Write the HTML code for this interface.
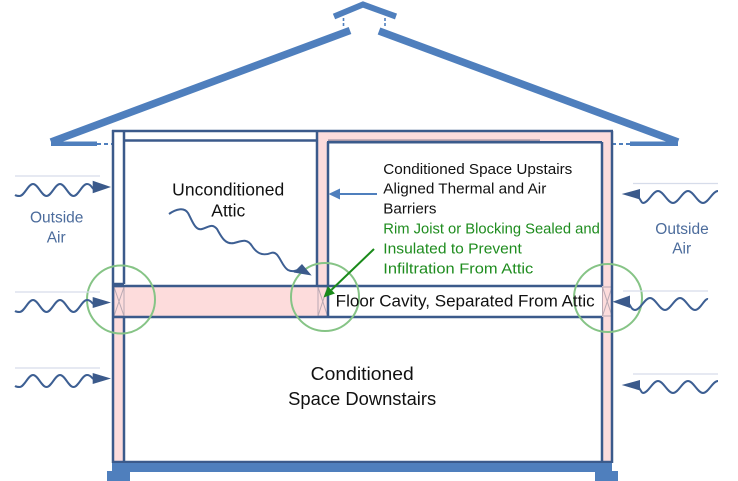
<!DOCTYPE html>
<html><head><meta charset="utf-8"><style>
html,body{margin:0;padding:0;background:#fff;}
svg{display:block;}
text{font-family:"Liberation Sans",sans-serif;}
</style></head><body>
<svg width="738" height="481" viewBox="0 0 738 481" xmlns="http://www.w3.org/2000/svg">
<!-- roof -->
<g fill="none" stroke="#4f7fbd">
<line x1="51" y1="142" x2="350" y2="30.5" stroke-width="7.5"/>
<line x1="379" y1="31" x2="678" y2="142" stroke-width="7.5"/>
<polyline points="334,16.5 363,4.5 396,16.5" stroke-width="6" stroke-linejoin="miter"/>
<line x1="343.5" y1="18" x2="343.5" y2="28" stroke-width="1.6" stroke-dasharray="3,2"/>
<line x1="385" y1="18" x2="385" y2="28" stroke-width="1.6" stroke-dasharray="3,2"/>
<line x1="97" y1="144" x2="112" y2="144" stroke-width="2" stroke-dasharray="4,3"/>
<line x1="612" y1="144" x2="630" y2="144" stroke-width="2" stroke-dasharray="4,3"/>
</g>
<rect x="51" y="141.5" width="46" height="4.5" fill="#4f7fbd"/>
<rect x="630" y="141.5" width="48" height="4.5" fill="#4f7fbd"/>

<!-- pink insulation -->
<g fill="#fddcdc">
<rect x="317" y="131" width="11" height="155"/>
<rect x="317" y="131" width="295" height="11"/>
<rect x="602" y="131" width="10" height="331"/>
<rect x="113" y="286" width="204" height="31"/>
<rect x="113" y="317" width="11" height="145"/>
<rect x="317" y="286" width="11" height="31"/>
</g>

<!-- rims X -->
<g stroke="#b9a9b3" stroke-width="1" fill="none">
<rect x="114" y="287" width="10" height="29"/>
<line x1="114" y1="287" x2="124" y2="316"/><line x1="124" y1="287" x2="114" y2="316"/>
<rect x="318" y="287" width="9.5" height="29"/>
<line x1="318" y1="287" x2="327.5" y2="316"/><line x1="327.5" y1="287" x2="318" y2="316"/>
<rect x="602.5" y="287" width="9.5" height="29"/>
<line x1="602.5" y1="287" x2="612" y2="316"/><line x1="612" y1="287" x2="602.5" y2="316"/>
</g>
<line x1="328" y1="140.3" x2="540" y2="140.3" stroke="#a596a6" stroke-width="1.8"/>

<!-- house lines -->
<g stroke="#3b5a8b" stroke-width="2.5" fill="none">
<line x1="113" y1="130" x2="113" y2="463"/>
<line x1="124" y1="131" x2="124" y2="284"/>
<line x1="124" y1="317" x2="124" y2="462"/>
<line x1="113" y1="284" x2="124" y2="284"/>
<line x1="112" y1="131" x2="613" y2="131"/>
<line x1="124" y1="140.5" x2="317" y2="140.5"/>
<line x1="317" y1="131" x2="317" y2="286"/>
<line x1="327" y1="142.3" x2="602" y2="142.3"/>
<line x1="328" y1="142" x2="328" y2="317"/>
<line x1="602" y1="142" x2="602" y2="286"/>
<line x1="602" y1="317" x2="602" y2="462"/>
<line x1="612" y1="131" x2="612" y2="463"/>
<line x1="113" y1="286" x2="602" y2="286"/>
<line x1="113" y1="317" x2="602" y2="317"/>
<line x1="113" y1="462" x2="612" y2="462"/>
</g>

<!-- foundation -->
<rect x="112" y="463" width="500" height="9" fill="#4f7fbd"/>
<rect x="107" y="471" width="23" height="10" fill="#4f7fbd"/>
<rect x="595" y="471" width="23" height="10" fill="#4f7fbd"/>

<!-- green circles -->
<g stroke="#86c486" stroke-width="2" fill="none">
<circle cx="121" cy="299.5" r="34"/>
<circle cx="325" cy="297" r="34"/>
<circle cx="608" cy="298" r="34"/>
</g>

<!-- outside air lines -->
<g stroke="#d6dcea" stroke-width="1.2">
<line x1="15" y1="176" x2="100" y2="176"/>
<line x1="15" y1="292" x2="100" y2="292"/>
<line x1="15" y1="368" x2="100" y2="368"/>
<line x1="633" y1="183.5" x2="718" y2="183.5"/>
<line x1="623" y1="291" x2="708" y2="291"/>
<line x1="633" y1="374" x2="718" y2="374"/>
</g>

<!-- waves -->
<g stroke="#3d5f93" stroke-width="2" fill="none">
<path d="M15,195 C16.5,196 18,196 19.5,196 C24.4,196 28.1,184 33,184 S41.6,196 46.5,196 S55.1,184 60,184 S68.6,196 73.5,196 S82.1,184 87,184 S92,190 95,189"/>
<path d="M15,311 C16.5,312 18,312 19.5,312 C24.4,312 28.1,300 33,300 S41.6,312 46.5,312 S55.1,300 60,300 S68.6,312 73.5,312 S82.1,300 87,300 S92,305 95,304"/>
<path d="M15,386 C16.5,387 18,387 19.5,387 C24.4,387 28.1,375 33,375 S41.6,387 46.5,387 S55.1,375 60,375 S68.6,387 73.5,387 S82.1,375 87,375 S92,380 95,379"/>
<path d="M638,196 C641,201 642,203 643,203 C648.4,203 652.6,191 658,191 S667.6,203 673,203 S682.6,191 688,191 S697.6,203 703,203 S712.6,191 718,191"/>
<path d="M628,302 C631,307 632,310 635,310 C640.4,310 644.6,298 650,298 S659.6,310 665,310 S674.6,298 680,298 S689.6,310 695,310 S704.6,298 708,299"/>
<path d="M638,386 C641,391 642,393 643,393 C648.4,393 652.6,381 658,381 S667.6,393 673,393 S682.6,381 688,381 S697.6,393 703,393 S712.6,381 718,381"/>
<path d="M169,214 C176,209 184,207 188,213 C192,220 195,231 202,229 C209,227 212,223 217,229 C221,236 225,245 234,243 C242,241 247,238 252,246 C257,254 263,256 271,253 C279,250 281,266 288,270 C292,272 295,271 298,270"/>
</g>
<g fill="#3b5a8b">
<polygon points="92.7,180.7 111,187 92.7,193.3"/>
<polygon points="92.7,297 111,302.5 92.7,308"/>
<polygon points="92.7,373 111,378.5 92.7,384"/>
<polygon points="640,189 621.7,194 640,199.5"/>
<polygon points="630,295.5 612.5,301.7 630,308"/>
<polygon points="640,380 621.7,385 640,390.5"/>
<polygon points="293.5,272.5 302,264 311.7,275.5"/>
</g>

<!-- pointer arrows -->
<line x1="377" y1="194" x2="338" y2="194" stroke="#4f7fbd" stroke-width="2"/>
<polygon points="328.5,194 340,188.5 340,199.5" fill="#4f7fbd"/>
<line x1="374" y1="249" x2="331.4" y2="289.9" stroke="#1a8a1a" stroke-width="2"/>
<polygon points="323.5,297.5 334.9,293.5 327.9,286.3" fill="#1a8a1a"/>

<!-- text -->
<g fill="#4c6c9c" font-size="15.5" text-anchor="middle">
<text x="56.7" y="222.7">Outside</text>
<text x="56.2" y="242.7">Air</text>
<text x="682" y="234">Outside</text>
<text x="681.7" y="253.3">Air</text>
</g>
<g fill="#111" font-size="17.5" text-anchor="middle">
<text x="228.2" y="195.3" textLength="112" lengthAdjust="spacingAndGlyphs">Unconditioned</text>
<text x="228.3" y="216.7">Attic</text>
</g>
<g font-size="15.2" fill="#111">
<text x="383.3" y="174" textLength="189" lengthAdjust="spacingAndGlyphs">Conditioned Space Upstairs</text>
<text x="383.3" y="193.5" textLength="163" lengthAdjust="spacingAndGlyphs">Aligned Thermal and Air</text>
<text x="383.3" y="213.3">Barriers</text>
</g>
<g font-size="15.2" fill="#1e8c1e">
<text x="383.3" y="233.3" textLength="216.5" lengthAdjust="spacingAndGlyphs">Rim Joist or Blocking Sealed and</text>
<text x="383.3" y="253.3" textLength="138.5" lengthAdjust="spacingAndGlyphs">Insulated to Prevent</text>
<text x="383.3" y="273.3" textLength="150" lengthAdjust="spacingAndGlyphs">Infiltration From Attic</text>
</g>
<text x="335.7" y="306.7" font-size="16.9" fill="#111" textLength="259" lengthAdjust="spacingAndGlyphs">Floor Cavity, Separated From Attic</text>
<g fill="#111" font-size="18.3" text-anchor="middle">
<text x="362.2" y="380" textLength="103" lengthAdjust="spacingAndGlyphs">Conditioned</text>
<text x="362.2" y="405" textLength="148" lengthAdjust="spacingAndGlyphs">Space Downstairs</text>
</g>
</svg>
</body></html>
